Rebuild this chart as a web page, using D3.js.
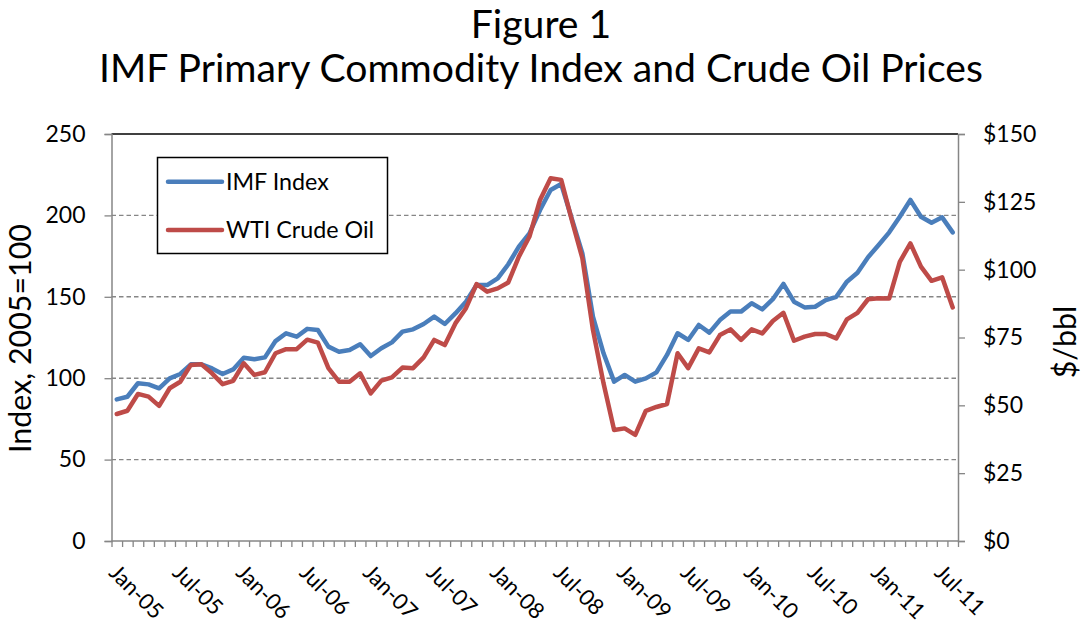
<!DOCTYPE html>
<html><head><meta charset="utf-8">
<script src="https://cdn.jsdelivr.net/npm/d3@7"></script>
<style>
html,body{margin:0;padding:0;background:#fff;}
svg{display:block;font-family:Lato,"Open Sans",sans-serif;}
</style>
</head><body>
<svg id="chart" width="1081" height="627"></svg>
<script>
// ---- data ----
const categories = d3.timeMonth.range(new Date(2005, 0, 1), new Date(2011, 8, 1)); // Jan-05 .. Aug-11
const imfIndex = [
  87.0, 88.6, 96.9, 96.2, 93.8, 99.9, 102.6, 108.5, 108.5, 106.0,
  102.6, 105.4, 112.6, 111.6, 112.8, 122.8, 127.6, 125.5, 130.3, 129.6,
  119.4, 116.3, 117.3, 120.8, 113.6, 118.4, 122.0, 128.6, 130.0, 133.3,
  137.8, 133.3, 139.8, 147.0, 157.2, 157.2, 161.3, 170.0, 180.8, 189.0,
  203.3, 215.6, 219.3, 198.0, 176.7, 137.8, 115.3, 97.9, 102.0, 97.9,
  99.9, 103.6, 114.3, 127.6, 123.5, 132.7, 128.0, 135.7, 140.9, 140.9,
  146.0, 142.3, 148.5, 157.9, 147.0, 143.5, 143.9, 148.0, 150.0, 159.3,
  164.8, 174.3, 181.8, 189.6, 199.2, 209.5, 199.2, 195.5, 198.8, 189.6
];
const wtiOil = [
  46.8, 48.0, 54.2, 53.2, 49.8, 56.3, 58.7, 64.9, 65.1, 61.8,
  57.8, 59.0, 65.5, 61.2, 62.2, 69.2, 70.7, 70.7, 74.2, 73.1,
  63.7, 58.7, 58.7, 61.8, 54.4, 59.1, 60.3, 63.9, 63.7, 67.7,
  74.1, 72.2, 80.2, 85.8, 94.7, 91.9, 93.1, 95.3, 104.8, 112.2,
  125.7, 133.7, 133.1, 118.3, 104.2, 77.8, 58.1, 40.9, 41.5, 39.1,
  48.0, 49.4, 50.5, 69.2, 63.7, 71.0, 69.5, 75.9, 78.0, 74.1,
  78.0, 76.5, 81.1, 84.1, 73.8, 75.3, 76.3, 76.3, 74.7, 81.7,
  84.1, 89.1, 89.5, 89.4, 102.9, 109.7, 101.1, 95.9, 97.2, 86.1
];
const tickLabels = ["Jan-05","Jul-05","Jan-06","Jul-06","Jan-07","Jul-07","Jan-08",
                    "Jul-08","Jan-09","Jul-09","Jan-10","Jul-10","Jan-11","Jul-11"];
const leftTicks = [0, 50, 100, 150, 200, 250];
const rightTicks = [0, 25, 50, 75, 100, 125, 150];
const seriesNames = ["IMF Index", "WTI Crude Oil"];
const titleLines = ["Figure 1", "IMF Primary Commodity Index and Crude Oil Prices"];

// ---- layout ----
const L = 111.5, R = 958, T = 134, B = 541;
const blue = "#4a7ebb", red = "#be4b48", gray = "#868686";
const svg = d3.select("#chart");
svg.append("rect").attr("width", 1081).attr("height", 627).attr("fill", "#fff");

const x = d3.scaleLinear().domain([0, categories.length]).range([L, R]);
const yL = d3.scaleLinear().domain([0, 250]).range([B, T]);
const yR = d3.scaleLinear().domain([0, 150]).range([B, T]);
const fmt = d3.timeFormat("%b-%y");

function fit(sel, w) {
  const fs = parseFloat(sel.attr("font-size"));
  const cur = sel.node().getComputedTextLength();
  sel.attr("font-size", fs * w / cur);
  return fs * w / cur;
}

// gridlines
svg.append("g").selectAll("line").data([50, 100, 150, 200]).join("line")
  .attr("x1", L).attr("x2", R).attr("y1", d => yL(d)).attr("y2", d => yL(d))
  .attr("stroke", gray).attr("stroke-width", 1.4).attr("stroke-dasharray", "4.5,3");
svg.append("line").attr("x1", L).attr("x2", R).attr("y1", yL(250)).attr("y2", yL(250))
  .attr("stroke", "#000").attr("stroke-width", 1.5);

// axes
const axL = svg.append("g").attr("transform", `translate(${L},0)`)
  .call(d3.axisLeft(yL).tickValues(leftTicks).tickSize(7).tickPadding(19));
const axR = svg.append("g").attr("transform", `translate(${R},0)`)
  .call(d3.axisRight(yR).tickValues(rightTicks).tickSize(7).tickPadding(18).tickFormat(d => "$" + d));
const axB = svg.append("g").attr("transform", `translate(0,${B})`)
  .call(d3.axisBottom(x).tickValues(d3.range(categories.length + 1)).tickSize(6).tickFormat(""));
[axL, axR, axB].forEach(g => {
  g.select(".domain").attr("stroke", gray).attr("stroke-width", 1.5);
  g.selectAll(".tick line").attr("stroke", gray).attr("stroke-width", 1.3);
  g.selectAll("text").attr("font-size", 23).attr("fill", "#000").attr("font-family", "Lato");
});
axB.select(".domain").attr("d", `M${L},0H${R}`);

// x labels
svg.append("g").selectAll("text").data(tickLabels).join("text")
  .attr("transform", d => {
    const i = categories.findIndex(c => fmt(c) === d);
    return `translate(${x(i + 0.5) - 9},${574}) rotate(45)`;
  })
  .attr("font-size", 22).text(d => d);

// lines
const lineL = d3.line().x((d, i) => x(i + 0.5)).y(d => yL(d));
const lineR = d3.line().x((d, i) => x(i + 0.5)).y(d => yR(d));
svg.append("path").attr("d", lineL(imfIndex)).attr("fill", "none").attr("stroke", blue)
  .attr("stroke-width", 4.5).attr("stroke-linejoin", "round").attr("stroke-linecap", "round");
svg.append("path").attr("d", lineR(wtiOil)).attr("fill", "none").attr("stroke", red)
  .attr("stroke-width", 4.5).attr("stroke-linejoin", "round").attr("stroke-linecap", "round");

// legend
const lg = svg.append("g");
lg.append("rect").attr("x", 157.5).attr("y", 157.5).attr("width", 230).attr("height", 96)
  .attr("fill", "#fff").attr("stroke", "#000").attr("stroke-width", 1.5);
const lgY = [181.7, 230];
const lgC = [blue, red];
seriesNames.forEach((n, k) => {
  lg.append("line").attr("x1", 168).attr("x2", 222).attr("y1", lgY[k]).attr("y2", lgY[k])
    .attr("stroke", lgC[k]).attr("stroke-width", 4.5).attr("stroke-linecap", "round");
});
const lt = seriesNames.map((n, k) => lg.append("text").attr("x", 226).attr("y", lgY[k] + 8.2)
  .attr("font-size", 22).text(n));
const lfs = fit(lt[1], 148);
lt[0].attr("font-size", lfs);

// titles
const t2 = svg.append("text").attr("x", 541).attr("y", 82).attr("text-anchor", "middle")
  .attr("font-size", 34).text(titleLines[1]);
const tfs = fit(t2, 884);
svg.append("text").attr("x", 541).attr("y", 38).attr("text-anchor", "middle")
  .attr("font-size", tfs).text(titleLines[0]);

// axis titles
const at1 = svg.append("text").attr("transform", "translate(31,338.5) rotate(-90)")
  .attr("text-anchor", "middle").attr("font-size", 28).text("Index, 2005=100");
const afs = fit(at1, 229);
svg.append("text").attr("transform", "translate(1076,342) rotate(-90)")
  .attr("text-anchor", "middle").attr("font-size", afs).text("$/bbl");
</script>
</body></html>
